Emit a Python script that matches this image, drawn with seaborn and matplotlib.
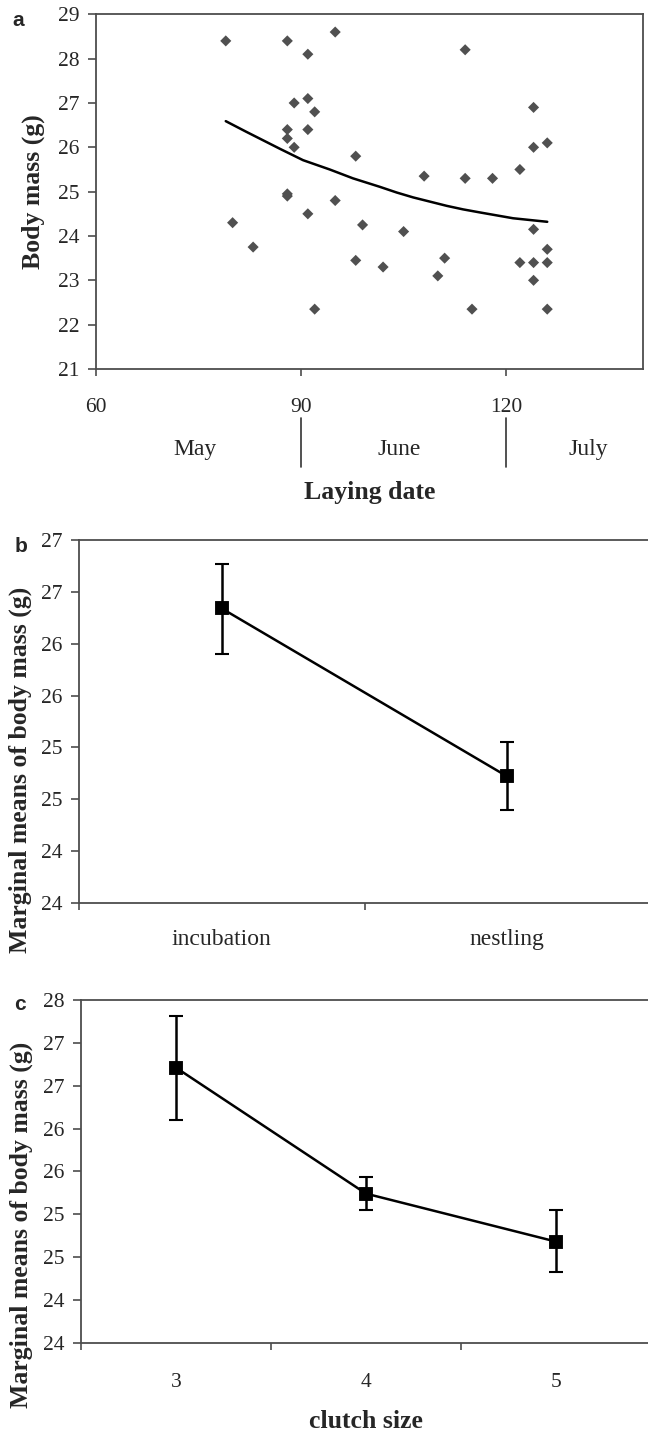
import matplotlib
matplotlib.use("Agg")
import matplotlib.pyplot as plt
import matplotlib.transforms as mtransforms
import seaborn as sns
import numpy as np

# ---------------- data ----------------
# panel a: laying date vs body mass
lay_day = [79, 80, 83, 88, 88, 88, 88, 88, 89, 89, 91, 91, 91, 91, 92, 92, 95, 95,
           98, 98, 99, 102, 105, 108, 110, 111, 114, 114, 115, 118, 122, 122,
           124, 124, 124, 124, 124, 126, 126, 126, 126]
body_mass = [28.4, 24.3, 23.75, 28.4, 26.4, 26.2, 24.95, 24.9, 27.0, 26.0, 28.1, 27.1,
             26.4, 24.5, 26.8, 22.35, 28.6, 24.8, 25.8, 23.45, 24.25, 23.3, 24.1, 25.35,
             23.1, 23.5, 28.2, 25.3, 22.35, 25.3, 25.5, 23.4, 26.9, 26.0, 24.15, 23.4,
             23.0, 26.1, 23.7, 23.4, 22.35]
# fitted trend
trend_day = [79, 82, 87, 90.3, 94.2, 97.6, 101.5, 104, 106.4, 111.3, 113.7, 116.2, 121, 126]
trend_mass = [26.59, 26.35, 25.96, 25.71, 25.5, 25.3, 25.11, 24.98, 24.87, 24.68, 24.6,
              24.53, 24.4, 24.32]
a_xticks = [60, 90, 120]
a_yticks = [21, 22, 23, 24, 25, 26, 27, 28, 29]
months = ["May", "June", "July"]
month_centers = [74.5, 104.3, 132]
month_bounds = [90, 120]

# panel b: breeding stage
stage = ["incubation", "nestling"]
stage_mean = [26.84, 25.22]
stage_upper = [27.27, 25.55]
stage_lower = [26.40, 24.90]
b_yticks = [24.0, 24.5, 25.0, 25.5, 26.0, 26.5, 27.0, 27.5]

# panel c: clutch size
clutch = ["3", "4", "5"]
clutch_mean = [27.21, 25.74, 25.18]
clutch_upper = [27.81, 25.93, 25.55]
clutch_lower = [26.60, 25.55, 24.82]
c_yticks = [24.0, 24.5, 25.0, 25.5, 26.0, 26.5, 27.0, 27.5, 28.0]

# ---------------- style ----------------
sns.set_style("white")
plt.rcParams["font.family"] = ["Liberation Serif", "DejaVu Serif"]
plt.rcParams["axes.edgecolor"] = "#4d4d4d"
plt.rcParams["axes.linewidth"] = 1.3

W, H = 648, 1431
fig = plt.figure(figsize=(W / 100, H / 100), dpi=100)

TICK_FS = 15.5
LAB_FS = 18.5
LETTER_FS = 15
SPINE_C = "#4d4d4d"
SANS = ["Liberation Sans", "DejaVu Sans"]


def box(l, t, r, b):
    return [l / W, 1 - b / H, (r - l) / W, (b - t) / H]


def style_axes(ax):
    for s in ax.spines.values():
        s.set_color(SPINE_C)
        s.set_linewidth(1.3)
    ax.tick_params(axis="y", which="major", direction="out", length=6, width=1.2,
                   color=SPINE_C, labelsize=TICK_FS, pad=6, left=True)
    ax.tick_params(axis="x", which="major", direction="out", length=5, width=1.2,
                   color=SPINE_C, labelsize=TICK_FS, bottom=True)


# ---------------- panel a ----------------
axa = fig.add_axes(box(95.8, 14.3, 643, 369))
sns.scatterplot(x=lay_day, y=body_mass, marker="D", s=32, color="#505050",
                edgecolor="none", linewidth=0, ax=axa, zorder=3)
sns.lineplot(x=trend_day, y=trend_mass, color="black", linewidth=1.8, ax=axa,
             sort=True, zorder=2)
axa.set_xlim(60, 140)
axa.set_ylim(21, 29)
axa.set_xticks(a_xticks)
axa.set_yticks(a_yticks)
style_axes(axa)
axa.tick_params(axis="x", pad=16)
axa.set_xlabel("")
axa.set_ylabel("Body mass (g)", fontsize=LAB_FS, fontweight="bold")
axa.yaxis.set_label_coords(-0.093, 0.5)

trans_a = mtransforms.blended_transform_factory(axa.transData, fig.transFigure)
for name, xc in zip(months, month_centers):
    axa.text(xc, 1 - 450 / H, name, transform=trans_a, ha="center", va="center",
             fontsize=17)
for xb in month_bounds:
    axa.plot([xb, xb], [1 - 418 / H, 1 - 467 / H], transform=trans_a, color="#333333",
             lw=1.2, clip_on=False)
fig.text((95.8 + 643) / 2 / W, 1 - 492 / H, "Laying date", ha="center", va="center",
         fontsize=LAB_FS, fontweight="bold")
fig.text(18.6 / W, 1 - 21 / H, "a", ha="center", va="center", fontsize=LETTER_FS,
         fontweight="bold", family=SANS)


def panel_means(ax, cats, mean, upper, lower, yticks, cat_fs, cat_pad):
    sns.pointplot(x=cats, y=mean, color="black", markers="s", linestyles="-",
                  errorbar=None, markersize=9, linewidth=1.8, ax=ax, zorder=3)
    xs = np.arange(len(cats))
    ax.errorbar(xs, mean,
                yerr=[np.array(mean) - np.array(lower), np.array(upper) - np.array(mean)],
                fmt="none", ecolor="black", elinewidth=1.8, capsize=5, capthick=1.5,
                zorder=2)
    n = len(cats)
    ax.set_xlim(-0.5, n - 0.5)
    ax.set_ylim(yticks[0], yticks[-1])
    ax.set_yticks(yticks)
    ax.set_yticklabels([str(int(v)) for v in yticks])
    ax.set_xticks(np.arange(n + 1) - 0.5)
    ax.set_xticklabels([""] * (n + 1))
    ax.set_xticks(xs, minor=True)
    ax.set_xticklabels(cats, minor=True)
    style_axes(ax)
    ax.tick_params(axis="x", which="minor", length=0, labelsize=cat_fs, pad=cat_pad)
    ax.set_xlabel("")
    ax.set_ylabel("Marginal means of body mass (g)", fontsize=LAB_FS,
                  fontweight="bold")


# ---------------- panel b ----------------
axb = fig.add_axes(box(79, 540, 650, 903))
panel_means(axb, stage, stage_mean, stage_upper, stage_lower, b_yticks, 17, 19)
axb.yaxis.set_label_coords(-0.082, 0.366)
fig.text(20.7 / W, 1 - 546 / H, "b", ha="center", va="center", fontsize=LETTER_FS,
         fontweight="bold", family=SANS)

# ---------------- panel c ----------------
axc = fig.add_axes(box(81, 1000, 651, 1342.7))
panel_means(axc, clutch, clutch_mean, clutch_upper, clutch_lower, c_yticks, 15.5, 22)
axc.yaxis.set_label_coords(-0.084, 0.343)
fig.text((81 + 651) / 2 / W, 1 - 1421 / H, "clutch size", ha="center", va="center",
         fontsize=LAB_FS, fontweight="bold")
fig.text(20 / W, 1 - 1004 / H, "c", ha="center", va="center", fontsize=LETTER_FS,
         fontweight="bold", family=SANS)

fig.savefig("out.png", dpi=100, facecolor="white")
